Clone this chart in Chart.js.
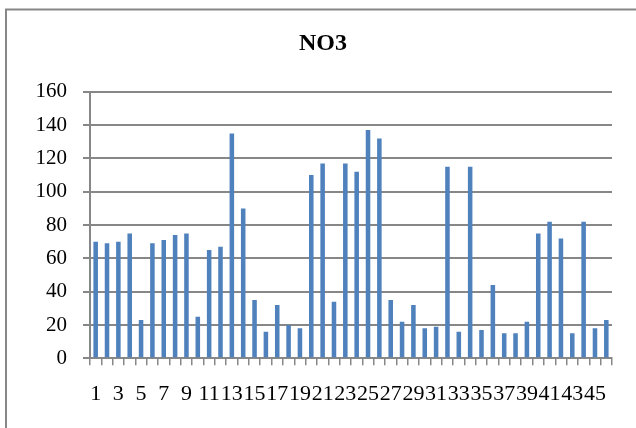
<!DOCTYPE html>
<html>
<head>
<meta charset="utf-8">
<script src="https://cdn.jsdelivr.net/npm/chart.js@4/dist/chart.umd.min.js"></script>
<style>
  html, body { margin: 0; padding: 0; background: #fff; }
  #wrap { position: relative; width: 636px; height: 428px; }
</style>
</head>
<body>
<div id="wrap"><canvas id="no3Chart"></canvas></div>
<script>
// sample numbers 1..46
const categories = Array.from({length: 46}, (_, i) => `${i + 1}`);

// NO3 values
const no3Values = [
    70, 69, 70, 75, 23, 69, 71, 74, 75, 25,
    65, 67, 135, 90, 35, 16, 32, 20, 18, 110,
    117, 34, 117, 112, 137, 132, 35, 22, 32, 18,
    19, 115, 16, 115, 17, 44, 15, 15, 22, 75,
    82, 72, 15, 82, 18, 23
];

const yTicks = [0, 20, 40, 60, 80, 100, 120, 140, 160];

const gray = '#878787';
const serif = "'Liberation Serif', 'Times New Roman', serif";

// outer frame of the chart object
const framePlugin = {
    id: 'frame',
    beforeDraw(chart) {
        const c = chart.ctx;
        c.save();
        c.strokeStyle = gray;
        c.lineWidth = 2;
        c.strokeRect(6, 9.5, 700, 500);
        c.restore();
    }
};

const ctx = document.getElementById('no3Chart').getContext('2d');

new Chart(ctx, {
    type: 'bar',
    data: {
        labels: categories,
        datasets: [{
            label: 'NO3',
            data: no3Values,
            backgroundColor: '#4F81BD',
            borderWidth: 0,
            categoryPercentage: 1,
            barPercentage: 0.4
        }]
    },
    options: {
        responsive: true,
        maintainAspectRatio: false,
        animation: false,
        layout: {
            padding: { left: 10, right: 0, top: 0, bottom: 0 }
        },
        scales: {
            x: {
                grid: {
                    drawOnChartArea: false,
                    drawTicks: true,
                    tickLength: 7,
                    color: gray,
                    lineWidth: 1.5
                },
                border: { color: gray, width: 2 },
                ticks: {
                    autoSkip: false,
                    maxRotation: 0,
                    minRotation: 0,
                    padding: 16,
                    color: '#000',
                    font: { family: serif, size: 22 },
                    callback: (val, i) => (i % 2 === 0 ? categories[i] : '')
                },
                afterFit(scale) { scale.height = 69.7; }
            },
            y: {
                min: 0,
                max: 160,
                afterBuildTicks(scale) {
                    scale.ticks = yTicks.map(v => ({ value: v }));
                },
                grid: {
                    color: gray,
                    lineWidth: 2,
                    tickLength: 7
                },
                border: { color: gray, width: 2 },
                ticks: {
                    padding: 16,
                    color: '#000',
                    font: { family: serif, size: 21 }
                },
                afterFit(scale) { scale.width = 80; }
            },
            // empty right margin, keeps the title centred on the whole frame
            yRight: {
                position: 'right',
                display: true,
                grid: { display: false },
                border: { display: false },
                ticks: { display: false },
                afterFit(scale) { scale.width = 24; }
            }
        },
        plugins: {
            legend: { display: false },
            tooltip: { enabled: false },
            title: {
                display: true,
                text: 'NO3',
                color: '#000',
                font: { family: serif, size: 24, weight: 'bold' },
                padding: { top: 29, bottom: 34 }
            }
        }
    },
    plugins: [framePlugin]
});
</script>
</body>
</html>
